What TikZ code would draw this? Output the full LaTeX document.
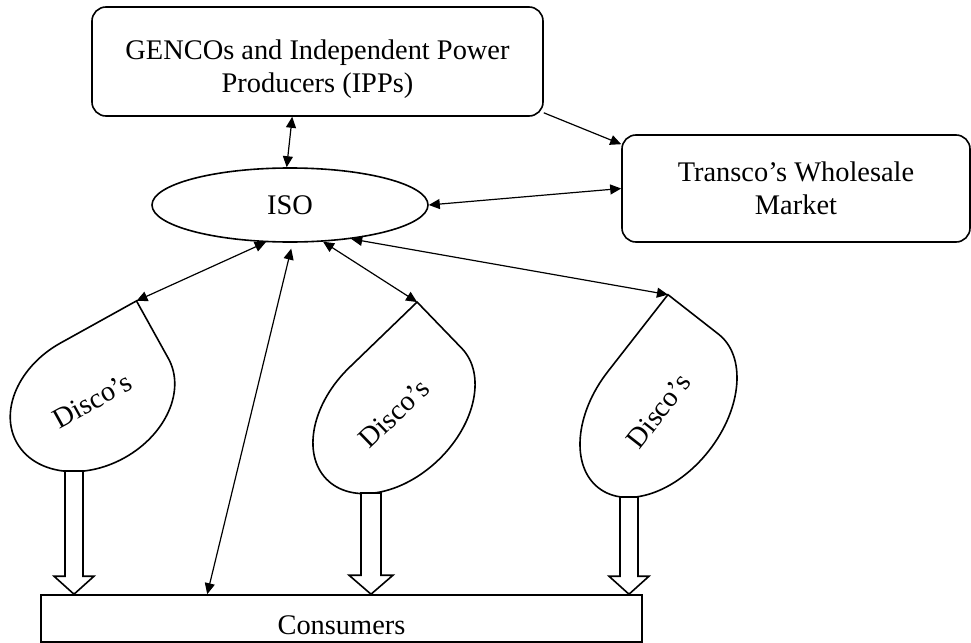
\documentclass[tikz,border=0pt]{standalone}
\usepackage{fontspec}
\setmainfont{Liberation Serif}
\usepackage{tikz}
\usetikzlibrary{
  arrows.meta, calc, shapes.geometric
}
\tikzset{
  box/.style={
    rectangle, rounded corners=7pt, draw, line width=0.8pt,
    align=center, inner sep=0pt, font=\fontsize{14.2pt}{16.5pt}\selectfont
  },
  plainbox/.style={
    rectangle, draw, line width=0.8pt,
    inner sep=0pt, font=\fontsize{14.2pt}{16.5pt}\selectfont
  },
  oval/.style={
    ellipse, draw, line width=0.8pt, minimum width=138pt, minimum height=37pt,
    inner sep=0pt, font=\fontsize{14.2pt}{16.5pt}\selectfont
  },
  droptext/.style={inner sep=0pt, font=\fontsize{14.2pt}{16.5pt}\selectfont},
  drop/.style={draw, line width=0.8pt},
  hollow/.style={draw, line width=0.8pt, fill=white, line join=miter},
  arrow/.style={{Triangle[length=5.5pt,width=5pt]}-{Triangle[length=5.5pt,width=5pt]}, line width=0.6pt},
  onearrow/.style={-{Triangle[length=5.5pt,width=5pt]}, line width=0.6pt},
}

\begin{document}
\begin{tikzpicture}[x=0.5pt, y=-0.5pt]

  \useasboundingbox (0,0) rectangle (971,643);

  \node[box, minimum width=225.5pt, minimum height=54.5pt] (gencos) at (317.5,61.5)
    {\rule{0pt}{17.5pt}GENCOs and Independent Power\\Producers (IPPs)};
  \node[box, minimum width=174pt, minimum height=53.5pt] (transco) at (796,188.5)
    {Transco's Wholesale\\Market};
  \node[oval] (iso) at (290,205) {ISO};
  \node[plainbox, minimum width=300.5pt, minimum height=23.5pt] (consumers) at (341.5,618.5)
    {\rule{0pt}{16pt}Consumers};

  % distribution companies
  \begin{scope}[shift={(92.5,400.4)}, rotate=29, yscale=-1]
    \draw[drop] (0,65.7) arc[start angle=90, end angle=360, x radius=86.7, y radius=65.7]
      -- (86.7,65.7) -- cycle;
    \coordinate (disco1) at (86.7,65.7);
    \node[droptext, rotate=29] (d1label) at (0,0) {Disco's};
  \end{scope}

  \begin{scope}[shift={(394,413.6)}, rotate=44, yscale=-1]
    \draw[drop] (0,64.2) arc[start angle=90, end angle=360, x radius=94.1, y radius=64.2]
      -- (94.1,64.2) -- cycle;
    \coordinate (disco2) at (94.1,64.2);
    \node[droptext, rotate=44] (d2label) at (0,0) {Disco's};
  \end{scope}

  \begin{scope}[shift={(658.5,411)}, rotate=52, yscale=-1]
    \draw[drop] (0,64.2) arc[start angle=90, end angle=360, x radius=97.5, y radius=64.2]
      -- (97.5,64.2) -- cycle;
    \coordinate (disco3) at (97.5,64.2);
    \node[droptext, rotate=52] (d3label) at (0,0) {Disco's};
  \end{scope}

  \coordinate (d1bot) at (74,471);
  \coordinate (d2bot) at (371,493);
  \coordinate (d3bot) at (629,497);

  % supply to consumers
  \draw[hollow] ($(d1bot)+(-9,0)$) -- ($(d1bot |- consumers.north)+(-9,-18)$) -- ++(-11,0)
    -- (d1bot |- consumers.north) -- ++(20,-18) -- ++(-11,0) -- ($(d1bot)+(9,0)$) -- cycle;
  \draw[hollow] ($(d2bot)+(-10,0)$) -- ($(d2bot |- consumers.north)+(-10,-19)$) -- ++(-12,0)
    -- (d2bot |- consumers.north) -- ++(22,-19) -- ++(-12,0) -- ($(d2bot)+(10,0)$) -- cycle;
  \draw[hollow] ($(d3bot)+(-9,0)$) -- ($(d3bot |- consumers.north)+(-9,-18)$) -- ++(-11,0)
    -- (d3bot |- consumers.north) -- ++(20,-18) -- ++(-11,0) -- ($(d3bot)+(9,0)$) -- cycle;

  \draw[arrow] ([xshift=100.5pt]gencos.south west) -- (iso.95);
  \draw[onearrow] ([yshift=2pt]gencos.south east) -- ([yshift=-5pt]transco.north west);
  \draw[arrow] (iso.east) -- (transco.west);
  \draw[arrow] (iso.-123) -- (disco1);
  \draw[arrow, shorten <=3pt] (iso.-86) -- ([xshift=83.5pt]consumers.north west);
  \draw[arrow] (iso.-48) -- (disco2);
  \draw[arrow] (iso.-29) -- (disco3);

\end{tikzpicture}
\end{document}
